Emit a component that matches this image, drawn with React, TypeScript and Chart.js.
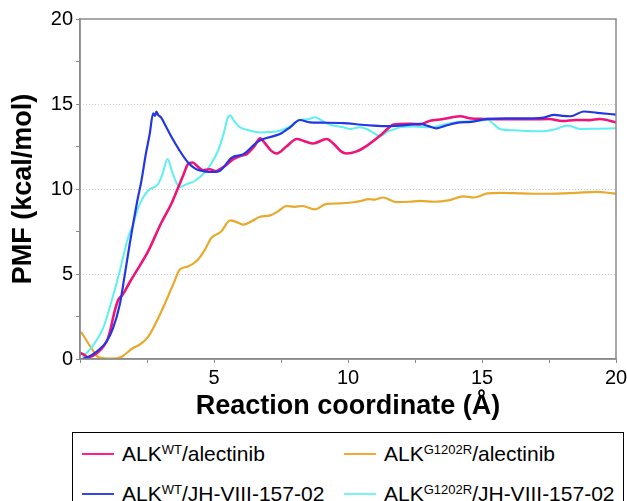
import React, { useEffect, useRef } from "react";
import { Chart, registerables } from "chart.js";

Chart.register(...registerables);

// Reaction coordinate (Å) / PMF (kcal/mol) pairs
const wtAlectinib: [number, number][] = [
  [0.0, 0.35], [0.15, 0.25], [0.3, 0.1], [0.67, 0.4], [0.9, 0.8], [1.04, 1.2], [1.15, 1.8],
  [1.23, 2.4], [1.42, 3.45], [1.6, 3.8], [1.85, 4.5], [2.1, 5.15], [2.54, 6.33], [3.03, 8.0],
  [3.4, 9.1], [3.66, 10.08], [3.85, 10.8], [4.03, 11.46], [4.2, 11.56], [4.4, 11.3], [4.6, 11.1],
  [4.84, 11.16], [5.05, 11.05], [5.22, 11.17], [5.45, 11.4], [5.72, 11.76], [6.0, 11.95],
  [6.22, 12.05], [6.5, 12.5], [6.72, 12.98], [6.9, 12.7], [7.1, 12.3], [7.34, 12.09], [7.7, 12.5],
  [8.09, 12.94], [8.4, 12.8], [8.7, 12.68], [9.2, 12.94], [9.5, 12.6], [9.75, 12.2], [9.95, 12.09],
  [10.3, 12.2], [10.7, 12.54], [11.2, 13.14], [11.57, 13.67], [11.7, 13.79], [12.3, 13.83],
  [12.7, 13.8], [13.06, 14.02], [13.5, 14.1], [14.18, 14.28], [14.6, 14.15], [15.05, 14.12],
  [16.0, 14.1], [16.9, 14.1], [17.5, 14.12], [18.0, 14.0], [18.5, 14.06], [19.0, 14.05],
  [19.4, 14.12], [20.0, 13.92],
];

const g1202rAlectinib: [number, number][] = [
  [0.04, 1.6], [0.4, 0.7], [0.7, 0.1], [1.16, 0.02], [1.54, 0.12], [1.98, 0.65], [2.23, 0.85],
  [2.54, 1.3], [3.03, 2.78], [3.47, 4.36], [3.72, 5.25], [4.03, 5.44], [4.4, 5.84], [4.65, 6.4],
  [4.9, 7.12], [5.27, 7.5], [5.6, 8.15], [5.85, 8.05], [6.1, 7.9], [6.4, 8.1], [6.7, 8.35],
  [7.1, 8.45], [7.4, 8.7], [7.7, 9.0], [8.0, 8.95], [8.3, 9.0], [8.77, 8.8], [9.2, 9.13],
  [9.7, 9.15], [10.2, 9.22], [10.5, 9.3], [10.76, 9.4], [11.0, 9.38], [11.3, 9.5], [11.8, 9.23],
  [12.3, 9.25], [12.7, 9.3], [13.2, 9.25], [13.8, 9.35], [14.3, 9.57], [14.7, 9.5], [15.2, 9.74],
  [15.7, 9.77], [16.5, 9.74], [17.2, 9.72], [17.8, 9.73], [18.5, 9.77], [19.3, 9.83],
  [19.7, 9.78], [20.0, 9.72],
];

const wtJH: [number, number][] = [
  [0.1, 0.0], [0.4, 0.2], [0.67, 0.5], [0.98, 1.0], [1.23, 1.8], [1.48, 3.17], [1.67, 4.95],
  [1.85, 6.72], [2.0, 8.1], [2.15, 9.4], [2.29, 10.47], [2.45, 12.0], [2.6, 13.23], [2.73, 14.45],
  [2.8, 14.3], [2.85, 14.55], [2.92, 14.35], [3.03, 14.2], [3.2, 13.7], [3.4, 13.1], [3.7, 12.3],
  [4.03, 11.56], [4.3, 11.2], [4.53, 11.07], [4.8, 11.0], [5.02, 11.0], [5.22, 11.07], [5.4, 11.36],
  [5.66, 11.85], [6.1, 12.05], [6.6, 12.74], [6.84, 12.94], [7.46, 13.23], [7.84, 13.63],
  [8.2, 14.06], [8.58, 13.92], [9.0, 13.9], [9.82, 13.88], [10.5, 13.78], [10.94, 13.73],
  [11.5, 13.7], [11.94, 13.73], [12.7, 13.83], [13.0, 13.7], [13.3, 13.57], [13.7, 13.75],
  [14.18, 13.92], [14.6, 13.95], [15.2, 14.12], [16.0, 14.15], [16.9, 14.16], [17.3, 14.2],
  [17.7, 14.36], [18.0, 14.3], [18.3, 14.28], [18.8, 14.56], [19.3, 14.48], [20.0, 14.38],
];

const g1202rJH: [number, number][] = [
  [0.1, 0.1], [0.49, 0.8], [0.86, 1.8], [1.17, 3.37], [1.48, 5.15], [1.79, 7.12], [1.98, 7.9],
  [2.15, 8.8], [2.35, 9.49], [2.6, 9.98], [2.91, 10.28], [3.1, 10.97], [3.26, 11.76], [3.47, 10.86],
  [3.72, 10.12], [4.0, 10.3], [4.28, 10.47], [4.65, 10.97], [4.9, 11.5], [5.15, 12.25], [5.35, 13.2],
  [5.52, 14.22], [5.6, 14.32], [5.75, 14.0], [5.97, 13.63], [6.3, 13.45], [6.72, 13.33], [7.1, 13.35],
  [7.46, 13.43], [7.8, 13.65], [8.2, 14.06], [8.5, 14.1], [8.77, 14.22], [9.0, 14.05], [9.2, 13.86],
  [9.45, 13.73], [9.82, 13.63], [10.07, 13.53], [10.45, 13.63], [10.7, 13.53], [11.0, 13.25],
  [11.2, 13.1], [11.5, 13.4], [11.7, 13.49], [11.94, 13.63], [12.44, 13.67], [13.06, 13.63],
  [13.6, 13.8], [14.18, 13.95], [14.7, 14.0], [15.23, 14.06], [15.45, 13.8], [15.67, 13.53],
  [16.2, 13.45], [17.16, 13.39], [17.7, 13.5], [18.2, 13.73], [18.66, 13.53], [19.3, 13.55],
  [20.0, 13.57],
];

const gridValues = [5, 10, 15];
const FONT = "Arial, 'Liberation Sans', sans-serif";

const legendItems = [
  { base: "ALK", sup: "WT", rest: "/alectinib", color: "#FF1E8C", col: 0, row: 0 },
  { base: "ALK", sup: "G1202R", rest: "/alectinib", color: "#F5A83A", col: 1, row: 0 },
  { base: "ALK", sup: "WT", rest: "/JH-VIII-157-02", color: "#3347E8", col: 0, row: 1 },
  { base: "ALK", sup: "G1202R", rest: "/JH-VIII-157-02", color: "#7AF5F5", col: 1, row: 1 },
];

const framePlugin = {
  id: "frameAndGrid",
  beforeDatasetsDraw(chart: any) {
    const { ctx, chartArea, scales } = chart;
    ctx.save();
    ctx.strokeStyle = "#cfcfcf";
    ctx.lineWidth = 1;
    ctx.setLineDash([1, 2]);
    for (const v of gridValues) {
      const y = Math.round(scales.y.getPixelForValue(v)) + 0.5;
      ctx.beginPath();
      ctx.moveTo(chartArea.left, y);
      ctx.lineTo(chartArea.right, y);
      ctx.stroke();
    }
    ctx.restore();
  },
  afterDraw(chart: any) {
    const { ctx, chartArea } = chart;
    ctx.save();
    ctx.strokeStyle = "#8a8a8a";
    ctx.lineWidth = 1.5;
    ctx.strokeRect(chartArea.left, chartArea.top, chartArea.right - chartArea.left, chartArea.bottom - chartArea.top);
    ctx.restore();
  },
};

function toPoints(arr: [number, number][]) {
  return arr.map(([x, y]) => ({ x, y }));
}

export default function App() {
  const ref = useRef<HTMLCanvasElement | null>(null);

  useEffect(() => {
    if (!ref.current) return;
    const ds = (label: string, data: [number, number][], color: string, w: number) => ({
      label,
      data: toPoints(data),
      borderColor: color,
      backgroundColor: color,
      borderWidth: w,
      pointRadius: 0,
      fill: false,
      cubicInterpolationMode: "monotone" as const,
    });
    const chart = new Chart(ref.current, {
      type: "line",
      data: {
        datasets: [
          ds("ALK WT/JH-VIII-157-02", wtJH, "#2236E6", 2.2),
          ds("ALK WT/alectinib", wtAlectinib, "#EE1478", 2.6),
          ds("ALK G1202R/JH-VIII-157-02", g1202rJH, "#5EF0F0", 2),
          ds("ALK G1202R/alectinib", g1202rAlectinib, "#E8A92C", 2.2),
        ],
      },
      options: {
        responsive: false,
        animation: false,
        layout: { padding: { left: 0, right: 11, top: 19, bottom: 0 } },
        plugins: { legend: { display: false }, tooltip: { enabled: false } },
        scales: {
          x: {
            type: "linear",
            min: 0,
            max: 20,
            afterFit: (s: any) => { s.height = 61; s.paddingRight = 0; s.paddingLeft = 0; },
            ticks: {
              stepSize: 2.5,
              autoSkip: false,
              maxRotation: 0,
              color: "#000",
              padding: 3,
              font: { family: FONT, size: 20 },
              callback: (v: any) => (v !== 0 && v % 5 === 0 ? String(v) : ""),
            },
            grid: { drawOnChartArea: false, drawTicks: true, tickLength: 4, tickColor: "#8a8a8a" },
            border: { color: "#8a8a8a", width: 1.5 },
            title: {
              display: true,
              text: "Reaction coordinate (Å)",
              color: "#000",
              font: { family: FONT, size: 27, weight: "bold", lineHeight: 1 },
              padding: { top: 0, bottom: 0 },
            },
          },
          y: {
            type: "linear",
            min: 0,
            max: 20,
            afterFit: (s: any) => { s.width = 80; s.paddingTop = 0; s.paddingBottom = 0; },
            ticks: {
              stepSize: 2.5,
              autoSkip: false,
              color: "#000",
              padding: 3,
              font: { family: FONT, size: 20 },
              callback: (v: any) => (v % 5 === 0 ? String(v) : ""),
            },
            grid: { drawOnChartArea: false, drawTicks: true, tickLength: 4, tickColor: "#8a8a8a" },
            border: { color: "#8a8a8a", width: 1.5 },
            title: {
              display: true,
              text: "PMF (kcal/mol)",
              color: "#000",
              font: { family: FONT, size: 27, weight: "bold", lineHeight: 1 },
              padding: { top: 10, bottom: 0 },
            },
          },
        },
      },
      plugins: [framePlugin],
    } as any);
    return () => chart.destroy();
  }, []);

  return (
    <div style={{ position: "absolute", left: 0, top: 0, width: 627, height: 501, overflow: "hidden", background: "#fff" }}>
      <canvas ref={ref} width={627} height={420} style={{ position: "absolute", left: 0, top: 0 }} />
      <div
        style={{
          position: "absolute",
          left: 72,
          top: 432,
          width: 552,
          height: 100,
          border: "1.5px solid #000",
          boxSizing: "border-box",
          fontFamily: FONT,
          fontSize: 21,
          color: "#000",
        }}
      >
        {legendItems.map((it, i) => {
          const cy = it.row === 0 ? 21 : 61;
          const lx = it.col === 0 ? 9 : 271;
          return (
            <React.Fragment key={i}>
              <div style={{ position: "absolute", left: lx, top: cy - 1, width: 32, height: 2, background: it.color }} />
              <div style={{ position: "absolute", left: lx + 40, top: cy - 12, lineHeight: "24px", whiteSpace: "nowrap" }}>
                {it.base}
                <span style={{ fontSize: 13, verticalAlign: "top", lineHeight: "16px" }}>{it.sup}</span>
                {it.rest}
              </div>
            </React.Fragment>
          );
        })}
      </div>
    </div>
  );
}
